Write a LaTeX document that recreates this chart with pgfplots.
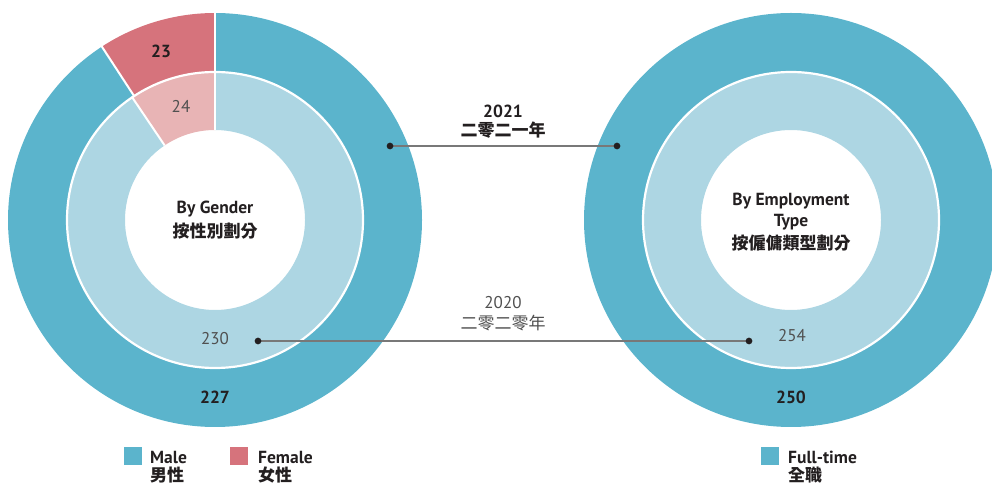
\documentclass[border=0pt]{standalone}
\usepackage{fontspec}
\setmainfont{PT Sans}
\newfontfamily\cjk{Noto Sans CJK TC}
\usepackage{pgfplots}
\pgfplotsset{compat=1.18}
\usepackage{pgfplotstable}

\definecolor{mblue}{RGB}{91,180,204}
\definecolor{lblue}{RGB}{173,214,227}
\definecolor{fred}{RGB}{214,115,124}
\definecolor{lred}{RGB}{232,180,181}
\definecolor{txt}{RGB}{35,31,32}
\definecolor{ltxt}{RGB}{80,80,80}
\definecolor{lgray}{RGB}{120,120,120}

% 2021 (outer ring) and 2020 (inner ring)
\pgfplotstableread{
group value col
Male 227 mblue
Female 23 fred
}\genderA
\pgfplotstableread{
group value col
Male 230 lblue
Female 24 lred
}\genderB
\pgfplotstableread{
group value col
Fulltime 250 mblue
}\empA
\pgfplotstableread{
group value col
Fulltime 254 lblue
}\empB

% #1 table, #2 cx, #3 cy, #4 inner radius, #5 outer radius
\newcommand\ring[5]{%
  \gdef\tot{0}%
  \pgfplotstableforeachcolumnelement{value}\of#1\as\val{%
    \pgfmathsetmacro\tmp{\tot+\val}\xdef\tot{\tmp}}%
  \gdef\astart{90}%
  \pgfplotstableforeachcolumnelement{value}\of#1\as\val{%
    \pgfplotstablegetelem{\pgfplotstablerow}{col}\of#1%
    \edef\thecol{\pgfplotsretval}%
    \pgfmathsetmacro\aend{\astart-360*(\val/\tot)}%
    \fill[\thecol] ([shift={(\astart:#5)}]axis cs:#2,#3)
      arc[start angle=\astart, end angle=\aend, radius=#5]
      -- ([shift={(\aend:#4)}]axis cs:#2,#3)
      arc[start angle=\aend, end angle=\astart, radius=#4] -- cycle;
    \xdef\astart{\aend}%
  }%
  \pgfplotstablegetrowsof{#1}%
  \ifnum\pgfplotsretval>1
    \gdef\astart{90}%
    \pgfplotstableforeachcolumnelement{value}\of#1\as\val{%
      \draw[white, line width=2pt] ([shift={(\astart:#4)}]axis cs:#2,#3) -- ([shift={(\astart:#5+1pt)}]axis cs:#2,#3);
      \pgfmathsetmacro\aend{\astart-360*(\val/\tot)}%
      \xdef\astart{\aend}%
    }%
  \fi
}

\begin{document}
\begin{tikzpicture}
\path[use as bounding box] (0,0) rectangle (992pt,484pt);
\clip (0,0) rectangle (992pt,484pt);
\begin{axis}[x=1pt, y=1pt, xmin=0, xmax=992, ymin=0, ymax=484,
  scale only axis, hide axis, clip=false]
\pgfplotsextra{
  \ring{\genderA}{215}{264}{148pt}{207pt}
  \ring{\genderB}{215}{264}{90pt}{148pt}
  \draw[white, line width=2.2pt] (axis cs:215,264) circle[radius=148pt];
  \ring{\empA}{791}{264}{148pt}{207pt}
  \ring{\empB}{791}{264}{90pt}{148pt}
  \draw[white, line width=2.2pt] (axis cs:791,264) circle[radius=148pt];
}
% connector lines
\addplot[lgray, line width=1.4pt, mark=*, mark size=2.6pt,
  mark options={fill=txt, draw=txt}] coordinates {(390,338) (617,338)};
\addplot[lgray, line width=1.4pt, mark=*, mark size=2.6pt,
  mark options={fill=txt, draw=txt}] coordinates {(258,143) (749,143)};

\tikzset{b/.style={font=\fontsize{17.5}{20}\selectfont\bfseries, text=txt, inner sep=0pt},
  l/.style={font=\fontsize{17}{20}\selectfont, text=ltxt, inner sep=0pt},
  cb/.style={font=\fontsize{17}{20}\selectfont\cjk\bfseries, text=txt, inner sep=0pt},
  cl/.style={font=\fontsize{17}{20}\selectfont\cjk, text=ltxt, inner sep=0pt}}

\node[b] at (axis cs:161,433) {23};
\node[l] at (axis cs:181,378) {24};
\node[b] at (axis cs:215,275) {By Gender};
\node[cb] at (axis cs:215,253) {按性別劃分};
\node[l] at (axis cs:215,145) {230};
\node[b] at (axis cs:215,87) {227};

\node[b] at (axis cs:503,373) {2021};
\node[cb] at (axis cs:503,354) {二零二一年};
\node[l] at (axis cs:503,181) {2020};
\node[cl] at (axis cs:503,161) {二零二零年};

\node[b] at (axis cs:791,283) {By Employment};
\node[b] at (axis cs:791,262) {Type};
\node[cb] at (axis cs:791,241) {按僱傭類型劃分};
\node[l] at (axis cs:792,148) {254};
\node[b] at (axis cs:791,87) {250};

% legend
\fill[mblue] (axis cs:124,19) rectangle (axis cs:142,37);
\node[b, anchor=west] at (axis cs:150,27) {Male};
\node[cb, anchor=west] at (axis cs:150,9) {男性};
\fill[fred] (axis cs:230,19) rectangle (axis cs:248,37);
\node[b, anchor=west] at (axis cs:258,27) {Female};
\node[cb, anchor=west] at (axis cs:258,9) {女性};
\fill[mblue] (axis cs:761,19) rectangle (axis cs:779,37);
\node[b, anchor=west] at (axis cs:788,27) {Full-time};
\node[cb, anchor=west] at (axis cs:788,9) {全職};
\end{axis}
\end{tikzpicture}
\end{document}
